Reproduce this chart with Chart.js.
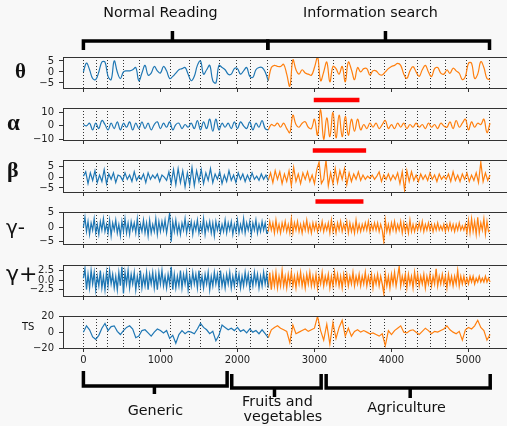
<!DOCTYPE html>
<html lang="en">
<head>
<meta charset="UTF-8">
<title>EEG bands during reading and search</title>
<style>
  html, body { margin: 0; padding: 0; background: #f8f8f8; overflow: hidden; }
  #fig { position: relative; width: 507px; height: 426px; overflow: hidden; }
  #fig canvas { position: absolute; left: 0; }
</style>
</head>
<body>
<div id="fig"></div>

<script src="https://cdn.jsdelivr.net/npm/chart.js"></script>
<script>
// ---- data ----
const xTicks = [0, 1000, 2000, 3000, 4000, 5000];
const boundaries = [0, 165, 308, 523, 731, 1126, 1377, 1523, 1766, 1983, 2165, 2394,
                    2705, 3052, 3251, 3407, 3727, 3909, 4182, 4334, 4511, 4705, 4978, 5273];
const split = 2400;   // normal reading -> information search

// sample spacing 40
const thetaValues = [
  0, 4, 1, -3, -3.5, 0, 4.5, 4.5, -2, -3.5,
  5, 0, -3, 0, 0.5, 0.5, 1, 2, -4, -0.5,
  3, -1.5, -0.5, 2.5, 0.5, -0.5, 2.5, 0.5, -3, -2,
  -0.5, 1, 1.5, 2, -1, -4, -2, 3, 5, -1,
  1, 3, -4, -5, 3, 2, 1, -1, -1, 1.5,
  1.5, -1, 0.5, 2, -2, -2.5, 1, 2, 2, 0,
  -4, 2, 3, 2.5, 2.5, 3.5, -1, -6.5, 5.5, 1,
  -1, 1, -0.5, -1, -1.5, 2, 7, -4, 0, 4.5,
  -4.5, 2.5, 1.5, -1, 2.5, -4.5, 4.5, 1, -3.5, 2,
  0, 1.5, 1.5, -1.4, 0.5, 0.5, -1, -1.4, 0, 1.5,
  2.5, 3, 3.9, 3, -1, -2.9, 0.5, 2.4, 0, -2,
  1, 3, 0, -2.1, 1.5, 2, -0.5, -1, 0.9, -0.6,
  1.7, 0.5, -0.6, -3.5, -2, 4, 4, -3, -1, 4.7,
  2, -3, -3.5
];

// sample spacing 40
const alphaValues = [
  1, 0, 2, -3, 2, -2, 4, 1, -3, 2,
  -2, 3, -3, 2, -1, 3, -3, 2, -2, 3,
  -2, 2, -3, 1, 3, -2, 2, -1, 3, -3,
  1, 2, -2, 1, -1, 2, -2, 4, -3, 3,
  -2, 5, -4, 5, -3, 2, -1, 2, -2, 3,
  -2, 3, 0, -2, 3, -3, 2, -1, 4, -2,
  -3, 1, 0, 2, -1, 2, -2, -5, 8, 1,
  -1, 2, 3, -1, -2, 5, -7, 12, -10, 6,
  -8, 10, -9, 8, -8, 7, -7, 5, -4, 5,
  -3, 1, -2, 2, -1, 2, -2, 1, 4, -2,
  1, -2, 2, -1, 2, -2, 1, -1, 2, -1,
  1, -2, 2, -1, 1, -2, 2, 0, -1, 3,
  -2, 4, -1, 2, 5, -3, 3, -1, 2, 1,
  5, -5, 2
];

// sample spacing 30
const betaValues = [
  0.5, 2.5, -3, 2, -1.5, 3, -2.5, 1, -2, 3.5,
  -3, 1.5, -1, 2, -2.5, 1, 0.5, -1.5, 2, -1,
  1, -2, 2.5, -1.5, 0.5, -1, 1.5, -2.5, 2, -1,
  1, -0.5, 1.5, -2, 1, 0, -1.5, 2.5, -3, 3.5,
  -3.5, 4, -2.5, 3, -4.5, 2, -3.5, 4.5, -4, 3,
  -2, 3.5, -3, 2, -1.5, 4, -2.5, 1.5, -1, 2.5,
  -3, 1, -2, 3, -1.5, 1, -2.5, 2, -1, 1.5,
  -2, 1, -1.5, 2, -1, 0.5, -1.5, 1.5, -1, 1,
  -1.5, 2, -2.5, 3, -1, 2.5, -3, 1.5, -2, 3,
  -4, 4.5, -2, 1.5, -3, 2, -1, 2.5, -2, 1,
  -3, 3.5, 7, -3, -1, 8, -4, 2, -3, 4,
  -2.5, 3, -1, 4, -3.5, 2, -2, 1.5, -1, 2.5,
  -1.5, 1, -1, 0.5, -0.5, 1, -1, 0.5, 2.5, -2,
  1, -1, 1.5, -1.5, 1, -1, 2, -3, 2.5, -6,
  3, -2, 2.5, -1.5, 1, -2, 1.5, -1, 1, -1.5,
  2, -1, 1, -2, 1.5, -1, 0.5, -1, 1.5, -2,
  2.5, -1.5, 1, -2, 1.5, -1, 2, -2, 1, -1.5,
  2, -2.5, 7, -2, 2, -1.5, 1
];

// sample spacing 20
const gammaLowValues = [
  0, 3.5, -1.5, 2, -2.5, 1.5, -1, 3, -2, 1,
  -2.5, 2, -1, 3, -1.5, 1, -2, 2.5, -3, 1.5,
  -1, 2.5, -2, 1, -3, 2, -1.5, 3, -2, 1.5,
  -2.5, 2, -1, 1.5, -2, 3, -2.5, 1, -1.5, 2.5,
  -2, 1.5, -3, 2.5, -2, 1, -1.5, 3, -2.5, 2,
  -1.5, 2, -1, 2.5, -2, 1.5, 5, -5, 2, -1.5,
  2.5, -2, 1, -2.5, 1.5, -1, 3, -2, 1.5, -1,
  2, -2.5, 1.5, -1, 2.5, -2, 1, -1.5, 3, -2.5,
  1.5, -1, 2, -2, 1.5, -3, 2, -1, 1.5, -2,
  1, -1.5, 2.5, -2, 1.5, -1, 2, -2.5, 1, -1.5,
  2.5, -2, 1, -1.5, 3, -2, 1.5, -1, 2, -2.5,
  1.5, -1, 2.5, -2, 1, -1.5, 2, -1, 1.5, -2,
  -1.5, 2, -1, 1.5, -2, 2.5, -1.5, 1, -2, 1.5,
  -1, 2, -1.5, 1, -2, 3, -2, 1.5, -1, 2,
  -1.5, 1, -2, 1.5, -1, 2.5, -1.5, 1, -2, 1.5,
  -1, 1.5, -1.5, 1, -1, 2, -1.5, 1, -1, 1.5,
  -2, 2.5, -1.5, 1, -2, 1.5, -1, 2, -1.5, 1,
  -1, 2, -2, 1.5, -1.5, 1, -2, 2.5, -1.5, 1,
  -1.5, 1, -1, 1.5, -1, 2, -1.5, 1, -1, 1.5,
  -1, 1.5, -1.5, 1, -1, -5, 2.5, -1.5, 1, -2,
  1.5, -1, 2, -1.5, 1, -1, 2, -2, 1.5, -1.5,
  1, -2, 2.5, -1.5, 1, -1.5, 1, -1, 1.5, -1,
  2, -1.5, 1, -1, 1.5, -1, 1, -1.5, 1, -1,
  1.5, -1, 0.5, -1, 1, -1.5, 1, -1, 1.5, -1,
  1, -1.5, 1, -1, 1.5, -1, 0.5, -1, 1, -2,
  2.5, -2, 3, -1.5, 2, -2.5, 3.5, -2, 1.5, -1,
  3, -2.5, 2, -1.5, -1
];

// sample spacing 20
const gammaHighValues = [
  0.5, 3, -2.5, 1.5, -2, 2.5, -1, 2, -2.5, 1,
  -1.5, 2.5, -2, 1, -2.5, 2, -1.5, 2.5, -1, 1.5,
  -2, 1, -2.5, 2, -1.5, 3.5, -3.5, 2, -1, 2.5,
  -2, 1.5, -1, 2, -2.5, 1, -1.5, 2.5, -2, 1,
  -1.5, 2, -2.5, 1.5, -1, 2, -2, 1.5, -2.5, 2,
  -1, 2.5, -1.5, 1, -2, 1.5, -1, 3.5, -2.5, 1.5,
  -2, 1, -1.5, 2.5, -2, 1.5, -1, 2, -2.5, 1,
  -1.5, 2, -1, 1.5, -2, 2.5, -1.5, 1, -2, 1.5,
  -1, 2, -2.5, 1, -1.5, 2, -1, 1.5, -2, 2.5,
  -1.5, 1, -2, 1.5, -1, 2, -2, 1, -1.5, 2,
  -1, 1.5, -2, 1, -1.5, 2, -1, 1.5, -2, 1,
  -1.5, 2, -1, 1.5, -2, 1, -1.5, 2, -1, 1.5,
  -2, 2, -2.5, 1.5, -1.5, 2, -2, 1, -1.5, 2.5,
  -1.5, 1, -2, 1.5, -1, 2, -1.5, 1, -2, 1.5,
  -1, 2, -1.5, 1, -2, 1.5, -1, 2, -1.5, 1,
  -1.5, 1.5, -2, 1, -1, 2, -1.5, 1, -1, 1.5,
  -2, 1, -1.5, 2, -1, 1.5, -1.5, 1, -2, 1.5,
  -1, 1.5, -1.5, 1, -1, 2, -1.5, 1, -1, 1.5,
  -1.5, 1, -1, 2, -1.5, 1, -1, 1.5, -2, 1,
  -1, 1.5, -1.5, 1, -1, -3.5, 1.5, -1.5, 1, -2,
  1.5, -1, 2, -1.5, 1, 3.5, -1.5, 1, -1, 1.5,
  -2, 1.5, -1, 1, -2, 2, -1, 1.5, -1.5, 1,
  -1, 1.5, -2, 1, -1, 1.5, -1.5, 1, -1, 3,
  -1.5, 1, -1, 1.5, -1, 1, -2, 1.5, -1, 1,
  -1.5, 1, -1, 2.5, -1.5, 1, -1, 1, -1, 0.5,
  -1, 1, -0.5, 1, -1, 0.5, -0.5, 1, -0.5, 0.5,
  -0.5, 1, -0.5, 0.5, -0.5
];

// sample spacing 40
const tsValues = [
  0, 8, 3, -6, -9, -4, 5, 11, 2, 7,
  8, 1, -3, 2, 6, 8, 4, -7, -5, 2,
  3, -1, -5, 0, 4, 2, -1, 2, -8, -4,
  -14, -3, 2, -2, 1, 0, -2, 4, 11, 6,
  3, -2, 1, -11, -4, 9, 6, 3, 5, 2,
  6, 1, 3, -1, 4, 0, 2, -2, 3, -2,
  -7, 3, 6, 8, 5, 3, 1, -13, 9, -2,
  0, 2, 4, 1, 3, 5, 20, 2, -10, 10,
  -15, 12, -8, 6, 15, -5, 5, -5, 1, 3,
  0, 2, 0, -2, -1, -3, -5, -2, -17, 2,
  -3, 2, 5, 8, 0, -1, 2, 3, 0, -3,
  1, 5, 2, -2, 1, 0, 2, 4, 8, 3,
  0, -2, 1, -10, 3, 6, 4, 8, 15, 6,
  2, -10, -3
];

// highlighted stretches (red bars)
const highlights = [[2991, 3584], [2978, 3671], [3013, 3636]];

// ---- layout ----
const xMin = -265, xMax = 5565;
const W = 512;

const topBrackets = [
  { from: 0, to: 2394, mid: 1156, barY: 41, endY: 50, midY: 31,
    text: [{ s: 'Normal Reading', at: 1000, y: 17 }] },
  { from: 2394, to: 5273, mid: 3922, barY: 41, endY: 50, midY: 31,
    text: [{ s: 'Information search', at: 3727, y: 17 }] }
];
const bottomBrackets = [
  { from: 0, to: 1866, mid: 922, barY: 386, endY: 371, midY: 394,
    text: [{ s: 'Generic', at: 935, y: 415 }] },
  { from: 1926, to: 3087, mid: 2481, barY: 388, endY: 374, midY: 397,
    text: [{ s: 'Fruits and', at: 2519, y: 406 }, { s: 'vegetables', at: 2590, y: 421 }] },
  { from: 3152, to: 5282, mid: 4243, barY: 388, endY: 374, midY: 398,
    text: [{ s: 'Agriculture', at: 4195, y: 412 }] }
];

const serifBold = n => 'bold ' + n + 'px "Liberation Serif", "DejaVu Serif", serif';
const sans = n => n + 'px "DejaVu Sans", sans-serif';

const panels = [
  { values: thetaValues, step: 40, tension: 0.4, lw: 1.2, top: 0, height: 104, areaTop: 57, areaBottom: 88,
    yMin: -7.3, yMax: 6.8, yTicks: [-5, 0, 5], dec: 0,
    label: 'θ', labelFont: serifBold(21), labelX: 15, labelY: 78,
    mark: highlights[0], markY: 100, brackets: topBrackets },
  { values: alphaValues, step: 40, tension: 0.4, lw: 1.2, top: 104, height: 51, areaTop: 108, areaBottom: 140,
    yMin: -10.5, yMax: 13.3, yTicks: [-10, 0, 10], dec: 0,
    label: 'α', labelFont: serifBold(23), labelX: 7, labelY: 130,
    mark: highlights[1], markY: 150.5 },
  { values: betaValues, step: 30, tension: 0, lw: 1.2, top: 155, height: 51, areaTop: 160, areaBottom: 192,
    yMin: -6.9, yMax: 8.0, yTicks: [-5, 0, 5], dec: 0,
    label: 'β', labelFont: serifBold(22), labelX: 7, labelY: 177,
    mark: highlights[2], markY: 201.5 },
  { values: gammaLowValues, step: 20, tension: 0, lw: 1.2, top: 206, height: 50, areaTop: 212, areaBottom: 244,
    yMin: -5.8, yMax: 5.3, yTicks: [-5, 0, 5], dec: 0,
    label: 'γ-', labelFont: sans(20), labelX: 6, labelY: 234 },
  { values: gammaHighValues, step: 20, tension: 0, lw: 1.3, top: 256, height: 50, areaTop: 265, areaBottom: 296,
    yMin: -4.2, yMax: 4.0, yTicks: [-2.5, 0, 2.5], dec: 1,
    label: 'γ+', labelFont: sans(22), labelX: 6, labelY: 281 },
  { values: tsValues, step: 40, tension: 0, lw: 1.2, top: 306, height: 120, areaTop: 316, areaBottom: 348,
    yMin: -20, yMax: 20.4, yTicks: [-20, 0, 20], dec: 0,
    label: 'TS', labelFont: sans(10), labelX: 22, labelY: 329.5,
    showX: true, brackets: bottomBrackets }
];

function fmtTick(v, dec) {
  const s = Math.abs(v).toFixed(dec);
  return v < 0 ? '\u2212' + s : s;
}

function drawBracket(ctx, x, b, oy) {
  const x1 = x.getPixelForValue(b.from), x2 = x.getPixelForValue(b.to), xm = x.getPixelForValue(b.mid);
  ctx.strokeStyle = '#000';
  ctx.lineWidth = 3.5;
  ctx.lineJoin = 'miter';
  ctx.beginPath();
  ctx.moveTo(x1, b.endY - oy);
  ctx.lineTo(x1, b.barY - oy);
  ctx.lineTo(x2, b.barY - oy);
  ctx.lineTo(x2, b.endY - oy);
  ctx.moveTo(xm, b.barY - oy);
  ctx.lineTo(xm, b.midY - oy);
  ctx.stroke();
  ctx.fillStyle = '#111';
  ctx.font = sans(14.3);
  ctx.textAlign = 'center';
  ctx.textBaseline = 'alphabetic';
  b.text.forEach(t => ctx.fillText(t.s, x.getPixelForValue(t.at), t.y - oy));
}

function decoPlugin(p) {
  return {
    id: 'deco',
    afterDraw(chart) {
      const { ctx, chartArea: a } = chart;
      const x = chart.scales.x;
      const oy = p.top;
      ctx.save();
      // top and right spines
      ctx.strokeStyle = '#333';
      ctx.lineWidth = 1;
      ctx.beginPath();
      ctx.moveTo(a.left, Math.round(a.top) + 0.5);
      ctx.lineTo(a.right, Math.round(a.top) + 0.5);
      ctx.moveTo(Math.round(a.right) - 0.5, a.top);
      ctx.lineTo(Math.round(a.right) - 0.5, a.bottom);
      ctx.stroke();
      // panel name
      ctx.fillStyle = '#111';
      ctx.font = p.labelFont;
      ctx.textAlign = 'left';
      ctx.textBaseline = 'alphabetic';
      ctx.fillText(p.label, p.labelX, p.labelY - oy);
      // red highlight bar under the panel
      if (p.mark) {
        const x1 = x.getPixelForValue(p.mark[0]), x2 = x.getPixelForValue(p.mark[1]);
        ctx.fillStyle = '#ff0000';
        ctx.fillRect(x1, p.markY - oy - 2.25, x2 - x1, 4.5);
      }
      (p.brackets || []).forEach(b => drawBracket(ctx, x, b, oy));
      ctx.restore();
    }
  };
}

const fig = document.getElementById('fig');

panels.forEach(p => {
  const canvas = document.createElement('canvas');
  canvas.width = W;
  canvas.height = p.height;
  canvas.style.top = p.top + 'px';
  fig.appendChild(canvas);

  const pts = p.values.map((v, i) => ({ x: i * p.step, y: v }));
  const blue = pts.filter(q => q.x <= split);
  const orange = pts.filter(q => q.x >= split);
  const lineStyle = { borderWidth: p.lw, pointRadius: 0, tension: p.tension, fill: false, xAxisID: 'x', yAxisID: 'y' };

  new Chart(canvas, {
    type: 'line',
    data: {
      datasets: [
        Object.assign({ data: blue, borderColor: '#1f77b4' }, lineStyle),
        Object.assign({ data: orange, borderColor: '#ff7f0e' }, lineStyle)
      ]
    },
    options: {
      responsive: false,
      animation: false,
      devicePixelRatio: 1,
      events: [],
      layout: { padding: { top: p.areaTop - p.top, left: 0, right: 0, bottom: 0 } },
      plugins: { legend: { display: false }, tooltip: { enabled: false } },
      scales: {
        x: {
          type: 'linear', min: xMin, max: xMax, position: 'bottom',
          afterBuildTicks: s => { s.ticks = xTicks.map(v => ({ value: v })); },
          afterFit: s => {
            s.height = p.top + p.height - p.areaBottom;
            s.paddingLeft = 0; s.paddingRight = 0;
          },
          grid: { drawOnChartArea: false, drawTicks: true, tickLength: 4, color: '#333', lineWidth: 1 },
          border: { display: true, color: '#333', width: 1 },
          ticks: {
            display: !!p.showX, color: '#222', padding: 2, maxRotation: 0, autoSkip: false,
            font: { family: 'DejaVu Sans', size: 10 },
            callback: v => String(v)
          }
        },
        bounds: {
          type: 'linear', min: xMin, max: xMax, position: 'top', z: 1,
          afterBuildTicks: s => { s.ticks = boundaries.map(v => ({ value: v })); },
          afterFit: s => { s.height = 0; s.paddingLeft = 0; s.paddingRight = 0; },
          grid: { drawOnChartArea: true, drawTicks: false, color: '#333', lineWidth: 1 },
          border: { display: false, dash: [1, 2] },
          ticks: { display: false }
        },
        y: {
          type: 'linear', min: p.yMin, max: p.yMax, position: 'left',
          afterBuildTicks: s => { s.ticks = p.yTicks.map(v => ({ value: v })); },
          afterFit: s => {
            s.width = 63;
            s.paddingTop = 0; s.paddingBottom = 0;
          },
          grid: { drawOnChartArea: false, drawTicks: true, tickLength: 4, color: '#333', lineWidth: 1 },
          border: { display: true, color: '#333', width: 1 },
          ticks: {
            color: '#222', padding: 5,
            font: { family: 'DejaVu Sans', size: 10 },
            callback: v => fmtTick(v, p.dec)
          }
        }
      }
    },
    plugins: [decoPlugin(p)]
  });
});
</script>
</body>
</html>
